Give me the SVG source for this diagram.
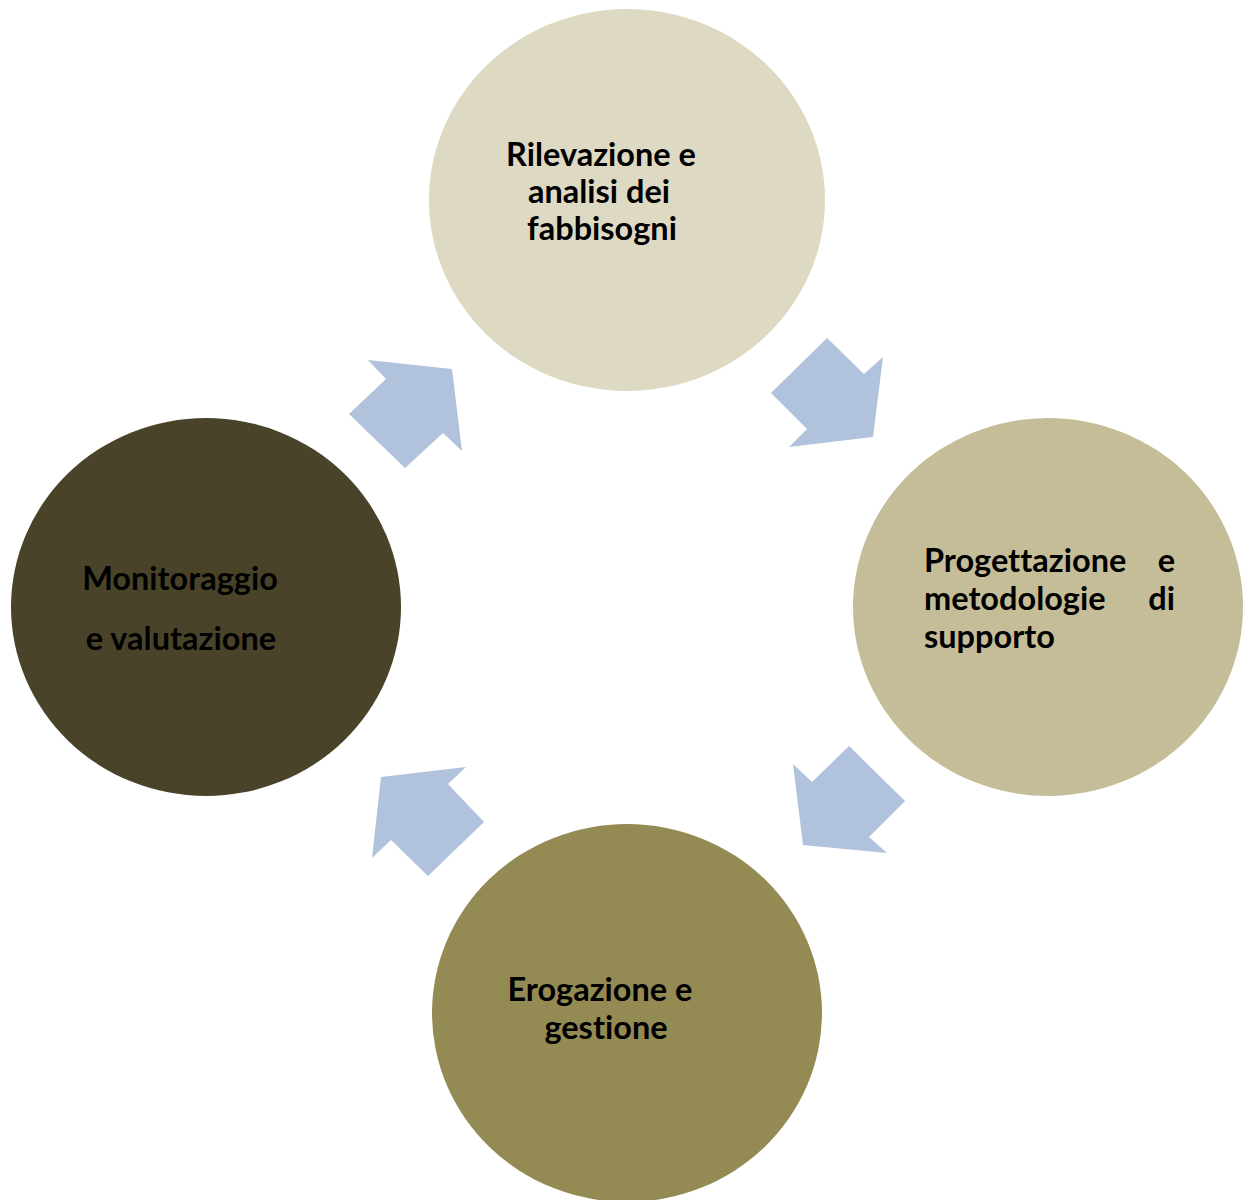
<svg xmlns="http://www.w3.org/2000/svg" width="1251" height="1200" viewBox="0 0 1251 1200">
<style>
.t{font-family:Lato,"Liberation Sans",sans-serif;font-weight:bold;font-size:32.5px;fill:#000;font-variant-ligatures:none}
.arrow{fill:#B1C2DD}
</style>
<rect width="1251" height="1200" fill="#fff"/>
<g id="node-rilevazione">
<ellipse cx="627" cy="200" rx="198" ry="191" fill="#DDD9C3"/>
<text class="t" text-anchor="middle"><tspan x="601" y="166">Rilevazione e</tspan><tspan x="599" y="203">analisi dei</tspan><tspan x="602" y="240">fabbisogni</tspan></text>
</g>
<g id="node-progettazione">
<ellipse cx="1048" cy="607" rx="195" ry="189" fill="#C4BD97"/>
<text class="t"><tspan x="924" y="572">Progettazione</tspan><tspan x="1175" y="572" text-anchor="end">e</tspan><tspan x="924" y="610">metodologie</tspan><tspan x="1175" y="610" text-anchor="end">di</tspan><tspan x="924" y="648">supporto</tspan></text>
</g>
<g id="node-erogazione">
<ellipse cx="627" cy="1013" rx="195" ry="189" fill="#948A54"/>
<text class="t" text-anchor="middle"><tspan x="600" y="1001">Erogazione e</tspan><tspan x="606" y="1039">gestione</tspan></text>
</g>
<g id="node-monitoraggio">
<ellipse cx="206" cy="607" rx="195" ry="189" fill="#494429"/>
<text class="t" text-anchor="middle"><tspan x="180" y="590">Monitoraggio</tspan><tspan x="181" y="650">e valutazione</tspan></text>
</g>
<g id="connectors">
<polygon class="arrow" points="827,338 864,374 883,357 873,437 789,447 807,429 771,393"/>
<polygon class="arrow" points="849,746 905,801 869,837 887,853 803,845 793,764 812,782"/>
<polygon class="arrow" points="466,767 448,784 484,822 428,876 391,840 372,858 381,777"/>
<polygon class="arrow" points="368,360 452,369 462,451 443,433 405,468 349,414 386,379"/>
</g>
</svg>
